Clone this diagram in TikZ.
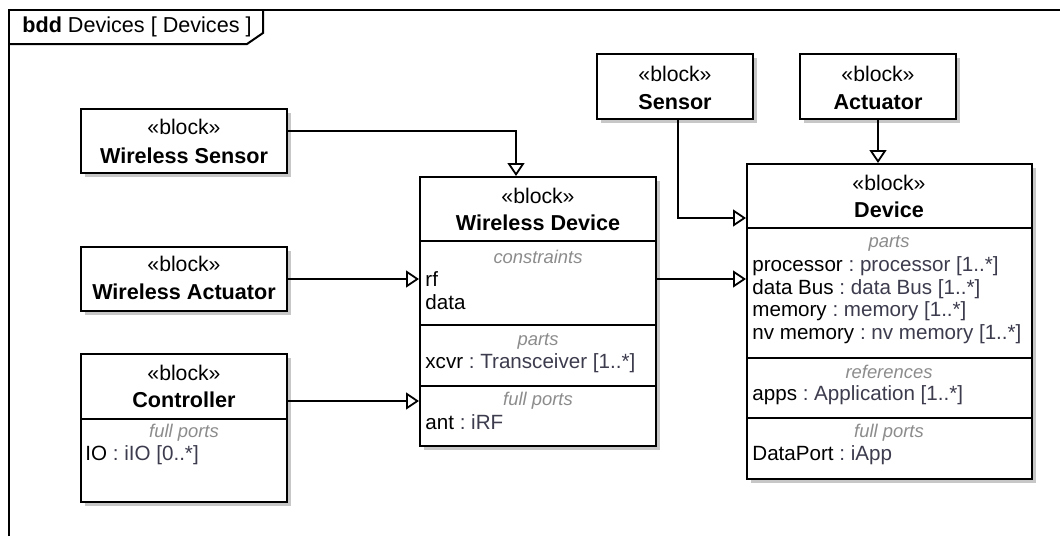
\documentclass[tikz,border=0pt]{standalone}
\usepackage{fontspec}
\setmainfont{Liberation Sans}
\usetikzlibrary{arrows.meta,fit,shadows}
\definecolor{typegray}{RGB}{60,60,78}
\newcommand{\sysblock}[5]{
  \coordinate (#1-nw) at (#2,#3);
  \coordinate (#1-se) at (#4,#5);
  \node[blk, fit=(#1-nw)(#1-se)] (#1) {};
}
\newcommand{\typed}[2]{#1\textcolor{typegray}{\ :\ #2}}
\tikzset{
  x=0.5pt, y=-0.5pt,
  blk/.style={draw, line width=1pt, fill=white, inner sep=0pt,
              drop shadow={shadow xshift=2pt, shadow yshift=-2pt, fill=black!22, opacity=1}},
  stereo/.style={inner sep=0pt, font=\fontsize{10.6}{12}\selectfont},
  bname/.style={inner sep=0pt, font=\fontsize{10.8}{12}\selectfont\bfseries},
  comp/.style={inner sep=0pt, text=black!45, font=\fontsize{9.2}{11}\selectfont\itshape},
  attr/.style={inner sep=0pt, anchor=west, font=\fontsize{10.3}{12}\selectfont},
  sepline/.style={line width=1pt},
  gen/.style={line width=0.9pt, -{Triangle[open, length=6.5pt, width=8.5pt, line width=0.9pt]}}
}

\begin{document}
\begin{tikzpicture}
	\useasboundingbox (0,0) rectangle (1060,536);
	% frame and tab
	\draw[line width=1pt] (9,536) -- (9,10) -- (1060,10);
	\draw[line width=1pt] (9,44) -- (247,44) -- (263,33) -- (263,10);
	\node[attr, font=\fontsize{10.8}{12}\selectfont] (hdr) at (22,27) {\textbf{bdd} Devices [ Devices ]};
	% blocks
	\sysblock{ws}{81}{109}{287}{173}
	\node[stereo] (ws-st) at (184,127) {«block»};
	\node[bname] (ws-nm) at (184,156) {Wireless Sensor};
	\sysblock{wa}{81}{247}{287}{311}
	\node[stereo] (wa-st) at (184,264) {«block»};
	\node[bname] (wa-nm) at (184,292) {Wireless Actuator};
	\sysblock{ctrl}{81}{354}{287}{502}
	\draw[sepline] (81,419) -- (287,419);
	\node[stereo] (ctrl-st) at (184,373) {«block»};
	\node[bname] (ctrl-nm) at (184,400) {Controller};
	\node[comp] (ctrl-fp) at (184,433) {full ports};
	\node[attr] (ctrl-io) at (85,455) {\typed{IO}{iIO [0..*]}};
	\sysblock{sen}{597}{54}{753}{119}
	\node[stereo] (sen-st) at (675,74) {«block»};
	\node[bname] (sen-nm) at (675,102) {Sensor};
	\sysblock{act}{800}{54}{956}{119}
	\node[stereo] (act-st) at (878,74) {«block»};
	\node[bname] (act-nm) at (878,102) {Actuator};
	\sysblock{wd}{420}{177}{656}{446}
	\draw[sepline] (420,241) -- (656,241);
	\draw[sepline] (420,325) -- (656,325);
	\draw[sepline] (420,386) -- (656,386);
	\node[stereo] (wd-st) at (538,196) {«block»};
	\node[bname] (wd-nm) at (538,223) {Wireless Device};
	\node[comp] (wd-cs) at (538,257) {constraints};
	\node[attr] (wd-rf) at (425,279) {rf};
	\node[attr] (wd-data) at (425,302) {data};
	\node[comp] (wd-pt) at (538,341) {parts};
	\node[attr] (wd-xcvr) at (425,363) {\typed{xcvr}{Transceiver [1..*]}};
	\node[comp] (wd-fp) at (538,401) {full ports};
	\node[attr] (wd-ant) at (425,422) {\typed{ant}{iRF}};
	\sysblock{dev}{747}{164}{1032}{479}
	\draw[sepline] (747,228) -- (1032,228);
	\draw[sepline] (747,358) -- (1032,358);
	\draw[sepline] (747,418) -- (1032,418);
	\node[stereo] (dev-st) at (889,183) {«block»};
	\node[bname] (dev-nm) at (889,210) {Device};
	\node[comp] (dev-pt) at (889,243) {parts};
	\node[attr] (dev-proc) at (752,266) {\typed{processor}{processor [1..*]}};
	\node[attr] (dev-bus) at (752,289) {\typed{data Bus}{data Bus [1..*]}};
	\node[attr] (dev-mem) at (752,311) {\typed{memory}{memory [1..*]}};
	\node[attr] (dev-nv) at (752,334) {\typed{nv memory}{nv memory [1..*]}};
	\node[comp] (dev-rf) at (889,372) {references};
	\node[attr] (dev-apps) at (752,395) {\typed{apps}{Application [1..*]}};
	\node[comp] (dev-fp) at (889,433) {full ports};
	\node[attr] (dev-dp) at (752,455) {\typed{DataPort}{iApp}};
	% generalizations
	\coordinate (k1) at (516,131);
	\coordinate (k2) at (678,218);
	\draw[gen] (ws.east |- k1) -- (k1) -- (wd.north -| k1);
	\draw[gen] (wa.east) -- (wa.east -| wd.west);
	\draw[gen] (ctrl.east |- wd-fp) -- (wd.west |- wd-fp);
	\draw[gen] (wd.east |- wa.east) -- (dev.west |- wa.east);
	\draw[gen] (sen.south -| k2) -- (k2) -- (dev.west |- k2);
	\draw[gen] (act.south) -- (act.south |- dev.north);
\end{tikzpicture}
\end{document}
